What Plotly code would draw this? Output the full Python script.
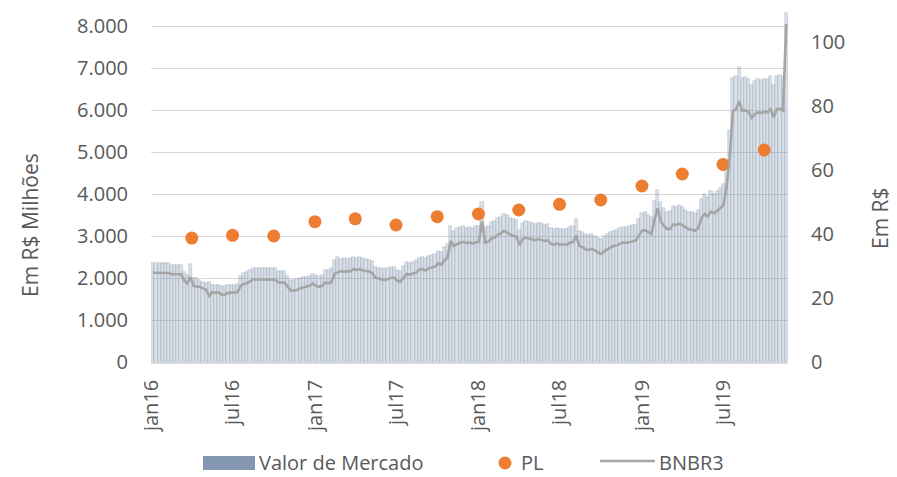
import pandas as pd
import plotly.graph_objects as go

# Weekly series (Mondays from 2016-01-04)
MARKET_VALUE = [
    2350, 2350, 2350, 2350, 2350, 2350, 2310, 2310, 2310, 2310,
    2150, 2070, 2330, 2000, 1990, 1960, 1900, 1880, 1900, 1830,
    1840, 1830, 1800, 1810, 1830, 1840, 1830, 1850, 2050, 2120,
    2140, 2200, 2240, 2250, 2240, 2250, 2240, 2240, 2250, 2230,
    2170, 2160, 2160, 2050, 1950, 1950, 1970, 2000, 2020, 2030,
    2050, 2100, 2080, 2040, 2080, 2200, 2180, 2250, 2430, 2500,
    2450, 2470, 2460, 2480, 2500, 2480, 2500, 2470, 2450, 2440,
    2400, 2270, 2250, 2230, 2210, 2240, 2270, 2270, 2180, 2170,
    2290, 2380, 2360, 2390, 2420, 2480, 2500, 2470, 2520, 2550,
    2570, 2650, 2620, 2740, 2800, 3250, 3130, 3180, 3220, 3230,
    3200, 3220, 3190, 3230, 3250, 3800, 3220, 3250, 3330, 3350,
    3430, 3460, 3530, 3490, 3430, 3400, 3380, 3150, 3320, 3350,
    3330, 3300, 3290, 3310, 3300, 3260, 3280, 3180, 3170, 3190,
    3160, 3170, 3160, 3220, 3230, 3400, 3130, 3100, 3040, 3020,
    3050, 3010, 2950, 2920, 2990, 3050, 3090, 3130, 3140, 3190,
    3220, 3210, 3240, 3260, 3270, 3400, 3540, 3560, 3500, 3450,
    3840, 4100, 3800, 3670, 3580, 3590, 3710, 3700, 3730, 3680,
    3630, 3580, 3560, 3540, 3620, 3880, 3990, 3930, 4060, 4010,
    4080, 4140, 4230, 4750, 5520, 6770, 6820, 7030, 6770, 6790,
    6750, 6590, 6690, 6730, 6710, 6740, 6730, 6820, 6600, 6820,
    6840, 6790, 8300,
]

PRICE = [
    27.9, 27.9, 27.9, 27.9, 27.8, 27.8, 27.4, 27.4, 27.4, 27.4,
    25.5, 24.6, 26.5, 23.8, 23.6, 23.5, 23.0, 22.6, 20.6, 21.9,
    21.6, 21.7, 21.0, 21.1, 21.6, 21.7, 21.7, 21.8, 23.8, 24.4,
    24.6, 25.3, 25.8, 25.8, 25.8, 25.8, 25.8, 25.8, 25.8, 25.7,
    24.9, 24.8, 24.8, 23.5, 22.3, 22.3, 22.5, 23.0, 23.4, 23.6,
    23.8, 24.5, 23.9, 23.5, 23.8, 24.8, 24.6, 25.0, 27.6, 27.9,
    28.4, 28.2, 28.4, 28.3, 29.0, 28.8, 29.0, 28.6, 28.4, 28.3,
    27.8, 26.3, 26.1, 25.9, 25.6, 25.9, 26.3, 26.4, 25.3, 25.1,
    26.5, 27.5, 27.3, 27.6, 28.0, 28.8, 29.0, 28.6, 29.3, 29.5,
    29.8, 30.8, 30.4, 31.8, 32.6, 37.8, 36.3, 36.8, 37.3, 37.5,
    37.2, 37.3, 37.0, 37.4, 37.6, 44.0, 37.3, 37.6, 38.6, 38.9,
    39.8, 40.2, 41.0, 40.5, 39.8, 39.4, 39.2, 36.5, 38.5, 38.8,
    38.6, 38.3, 38.1, 38.4, 38.2, 37.8, 38.0, 36.9, 36.7, 37.0,
    36.6, 36.8, 36.6, 37.3, 37.4, 39.5, 36.3, 35.9, 35.2, 35.0,
    35.3, 34.9, 34.2, 33.8, 34.6, 35.3, 35.8, 36.3, 36.4, 37.0,
    37.3, 37.2, 37.5, 37.8, 37.9, 39.5, 41.0, 41.2, 40.6, 40.0,
    44.5, 48.0, 44.0, 42.5, 41.5, 41.6, 43.0, 42.8, 43.2, 42.6,
    42.0, 41.5, 41.3, 41.0, 42.0, 45.0, 46.2, 45.5, 47.0, 46.5,
    47.2, 48.0, 49.0, 55.0, 64.0, 78.4, 79.0, 81.5, 78.4, 78.6,
    78.2, 76.3, 77.5, 78.0, 77.8, 78.1, 78.0, 79.0, 76.5, 79.0,
    79.2, 78.6, 105.6,
]

PL_DATES = [
    "2016-03-31", "2016-06-30", "2016-09-30", "2016-12-31",
    "2017-03-31", "2017-06-30", "2017-09-30", "2017-12-31",
    "2018-03-31", "2018-06-30", "2018-09-30", "2018-12-31",
    "2019-03-31", "2019-06-30", "2019-09-30",
]
PL_VALUES = [2950, 3015, 3000, 3340, 3410, 3262, 3460, 3524,
             3619, 3754, 3857, 4190, 4476, 4705, 5048]

TICK_DATES = ["2016-01-01", "2016-07-01", "2017-01-01", "2017-07-01",
              "2018-01-01", "2018-07-01", "2019-01-01", "2019-07-01"]
TICK_LABELS = ["jan16", "jul16", "jan17", "jul17",
               "jan18", "jul18", "jan19", "jul19"]

SERIES_NAMES = ["Valor de Mercado", "PL", "BNBR3"]

dates = pd.date_range("2016-01-04", periods=len(PRICE), freq="7D")

FONT = "Open Sans"
TXT = "#595959"
BAR_COLOR = "#8497B0"
PL_COLOR = "#ED7D31"
LINE_COLOR = "#A5A5A5"

fig = go.Figure()
fig.add_trace(go.Bar(
    x=dates, y=MARKET_VALUE, name=SERIES_NAMES[0], showlegend=False,
    width=7 * 86400000,
    marker=dict(color="rgba(132,151,176,0.30)",
                line=dict(width=0.6, color="rgba(132,151,176,0.45)")),
    yaxis="y",
))
fig.add_trace(go.Scatter(
    x=pd.to_datetime(PL_DATES), y=PL_VALUES, name=SERIES_NAMES[1], mode="markers",
    marker=dict(color=PL_COLOR, size=13), yaxis="y", showlegend=False,
))
fig.add_trace(go.Scatter(
    x=dates, y=PRICE, name=SERIES_NAMES[2], mode="lines",
    line=dict(color=LINE_COLOR, width=2.6), yaxis="y2", showlegend=False,
))

# custom legend (paper coordinates)
LEG_DY = 0.0085
shapes = [
    dict(type="rect", xref="paper", yref="paper", x0=0.0816, x1=0.1633,
         y0=-0.3144 + LEG_DY, y1=-0.2748 + LEG_DY,
         fillcolor=BAR_COLOR, line=dict(width=0)),
    dict(type="circle", xref="paper", yref="paper", x0=0.5455, x1=0.5659,
         y0=-0.3130 + LEG_DY, y1=-0.2762 + LEG_DY,
         fillcolor=PL_COLOR, line=dict(width=0)),
    dict(type="line", xref="paper", yref="paper", x0=0.7049, x1=0.7912,
         y0=-0.2890 + LEG_DY, y1=-0.2890 + LEG_DY,
         line=dict(color=LINE_COLOR, width=2.6)),
]
legend_text = [
    dict(text=SERIES_NAMES[0], x=0.166, y=-0.2946 + LEG_DY),
    dict(text=SERIES_NAMES[1], x=0.5775, y=-0.2946 + LEG_DY),
    dict(text=SERIES_NAMES[2], x=0.794, y=-0.2946 + LEG_DY),
]
annotations = [
    dict(text=t["text"], xref="paper", yref="paper", x=t["x"], y=t["y"],
         showarrow=False, xanchor="left", yanchor="middle",
         font=dict(size=20, color=TXT, family=FONT))
    for t in legend_text
]
annotations += [
    dict(text="Em R$ Milhões", textangle=-90, xref="paper", yref="paper",
         x=-0.19, y=0.388, showarrow=False, xanchor="center", yanchor="middle",
         font=dict(size=21, color=TXT, family=FONT)),
    dict(text="Em R$", textangle=-90, xref="paper", yref="paper",
         x=1.1444, y=0.408, showarrow=False, xanchor="center", yanchor="middle",
         font=dict(size=21, color=TXT, family=FONT)),
]

fig.update_layout(
    width=889, height=469,
    margin=dict(l=143, r=109, t=1, b=115, autoexpand=False),
    paper_bgcolor="white", plot_bgcolor="white",
    separators=",.",
    bargap=0,
    showlegend=False,
    font=dict(family=FONT, color=TXT, size=20),
    xaxis=dict(
        type="date", range=["2015-12-31", "2019-11-22"],
        tickmode="array", tickvals=TICK_DATES, ticktext=TICK_LABELS,
        tickangle=-90, showgrid=False, showline=True,
        linecolor="#D9D9D9", linewidth=1.5, ticks="",
        tickfont=dict(size=20, color=TXT, family=FONT),
        ticklabelstandoff=8, automargin=False,
    ),
    yaxis=dict(
        range=[0, 8405], tick0=0, dtick=1000, tickformat=",d",
        showgrid=True, gridcolor="#D9D9D9", gridwidth=1.3,
        zeroline=False, showline=False, ticks="",
        tickfont=dict(size=20, color=TXT, family=FONT),
        ticklabelstandoff=22, automargin=False,
    ),
    yaxis2=dict(
        overlaying="y", side="right", range=[0, 110.3], tick0=0, dtick=20,
        showgrid=False, zeroline=False, showline=False, ticks="",
        tickfont=dict(size=20, color=TXT, family=FONT),
        ticklabelstandoff=22, automargin=False,
    ),
    shapes=shapes,
    annotations=annotations,
)

fig.write_html("out.html")
